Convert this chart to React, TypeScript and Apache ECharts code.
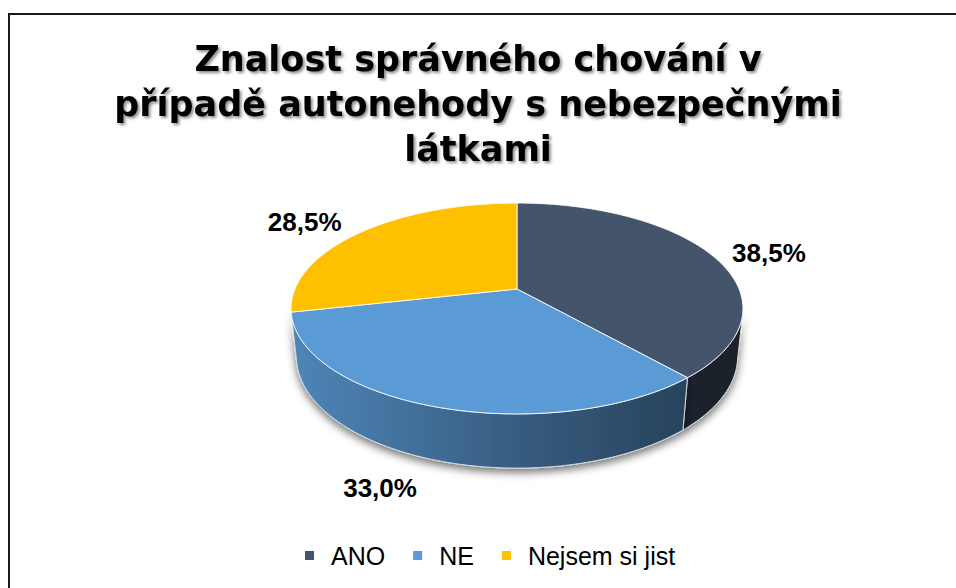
import React, { useEffect, useRef } from 'react';
import * as echarts from 'echarts';

// ---- data ----
const categories = ['ANO', 'NE', 'Nejsem si jist'];
const values = [38.5, 33.0, 28.5];
const colors = ['#44546A', '#5B9BD5', '#FFC000'];
const titleText = 'Znalost správného chování v\npřípadě autonehody s nebezpečnými\nlátkami';

// ---- 3D projection layout ----
const CX = 517;
const CY = 289;
const K = 1068;
const D = 4.81;
const TILT = (27.3 * Math.PI) / 180;
const SN = Math.sin(TILT);
const CS = Math.cos(TILT);
const H = 0.245;
const VIS = Math.acos(-1 / (D * CS)); // silhouette angle of the wall
const VIS0 = VIS;
const VIS1 = 2 * Math.PI - VIS;
const labelOffsets = [
  [57, -2],
  [-56, 28],
  [-57, -10],
];

function proj(theta: number, R: number, Y: number): number[] {
  const X = R * Math.sin(theta);
  const Z = R * Math.cos(theta);
  const xc = X;
  const yc = Y * CS + Z * SN;
  const zc = D + Z * CS - Y * SN;
  return [CX + (K * xc) / zc, CY - (K * yc) / zc];
}

function arc(from: number, to: number, Y: number): number[][] {
  const n = Math.max(2, Math.ceil((to - from) / (Math.PI / 180)));
  const pts: number[][] = [];
  for (let k = 0; k <= n; k++) {
    const t = from + ((to - from) * k) / n;
    pts.push(proj(t, 1, Y));
  }
  return pts;
}

function shade(hex: string, f: number): string {
  const n = parseInt(hex.slice(1), 16);
  const r = Math.round(((n >> 16) & 255) * f);
  const g = Math.round(((n >> 8) & 255) * f);
  const b = Math.round((n & 255) * f);
  return `rgb(${r},${g},${b})`;
}

export default function App() {
  const ref = useRef<HTMLDivElement>(null);
  useEffect(() => {
    document.body.style.margin = '0';
    document.documentElement.style.overflow = 'hidden';
    const chart = echarts.init(ref.current!, null, { renderer: 'svg' });
    const total = values.reduce((a, b) => a + b, 0);
    const leftX = proj(-Math.PI / 2, 1, 0)[0];
    const rightX = proj(Math.PI / 2, 1, 0)[0];

    const makeRender = (i: number) => (params: any, api: any) => {
      const v = api.value(0) as number;
      const before = values.slice(0, i).reduce((a, b) => a + b, 0);
      const a0 = (before / total) * 2 * Math.PI;
      const a1 = ((before + v) / total) * 2 * Math.PI;
      const children: any[] = [];
      const top = [proj(0, 0, 0), ...arc(a0, a1, 0)];
      children.push({
        type: 'polygon',
        shape: { points: top },
        style: {
          fill: colors[i],
          stroke: 'rgba(255,255,255,0.85)',
          lineWidth: 1,
        },
        z2: 10,
      });
      const w0 = Math.max(a0, VIS0);
      const w1 = Math.min(a1, VIS1);
      if (w1 > w0) {
        const wall = [...arc(w0, w1, 0), ...arc(w0, w1, -H).reverse()];
        const grad = new echarts.graphic.LinearGradient(
          leftX,
          0,
          rightX,
          0,
          [
            { offset: 0, color: shade(colors[i], 0.86) },
            { offset: 0.5, color: shade(colors[i], 0.6) },
            { offset: 1, color: shade(colors[i], 0.38) },
          ],
          true
        );
        children.push({
          type: 'polygon',
          shape: { points: wall },
          style: {
            fill: grad,
            stroke: 'rgba(225,225,225,0.9)',
            lineWidth: 1,
            shadowBlur: 9,
            shadowOffsetY: 4,
            shadowColor: 'rgba(0,0,0,0.55)',
          },
          z2: 1,
        });
      }
      const mid = (a0 + a1) / 2;
      const front = mid > VIS0 && mid < VIS1;
      const anchor = proj(mid, 1, front ? -H : 0);
      const off = labelOffsets[i];
      children.push({
        type: 'text',
        x: anchor[0] + off[0],
        y: anchor[1] + off[1],
        style: {
          text: v.toFixed(1).replace('.', ',') + '%',
          fill: '#000',
          font: 'bold 26px "Liberation Sans", Arial, sans-serif',
          align: 'center',
          verticalAlign: 'middle',
        },
        z2: 20,
      });
      return { type: 'group', children };
    };

    const option: any = {
      animation: false,
      backgroundColor: '#ffffff',
      title: {
        text: titleText,
        left: 'center',
        top: 31,
        textStyle: {
          fontFamily: '"DejaVu Sans", sans-serif',
          fontWeight: 'bold',
          fontSize: 35,
          lineHeight: 45,
          color: '#000',
          textShadowColor: 'rgba(0,0,0,0.45)',
          textShadowBlur: 3,
          textShadowOffsetX: 2,
          textShadowOffsetY: 2,
        },
      },
      legend: {
        data: categories,
        left: 305,
        top: 543,
        padding: 0,
        icon: 'rect',
        itemWidth: 9,
        itemHeight: 9,
        itemGap: 28,
        selectedMode: false,
        textStyle: {
          fontFamily: '"Liberation Sans", Arial, sans-serif',
          fontSize: 25,
          color: '#000',
          padding: [0, 0, 0, 12],
        },
      },
      series: categories.map((name, i) => ({
        type: 'custom',
        name,
        coordinateSystem: 'none',
        itemStyle: { color: colors[i] },
        data: [{ value: values[i], name }],
        renderItem: makeRender(i),
      })),
    };
    chart.setOption(option);
    return () => chart.dispose();
  }, []);
  return (
    <div
      style={{
        position: 'relative',
        width: 956,
        height: 588,
        overflow: 'hidden',
      }}
    >
      <div ref={ref} style={{ width: 956, height: 588 }} />
      <div
        style={{
          position: 'absolute',
          left: 8,
          top: 13,
          width: 2000,
          height: 2000,
          borderLeft: '2.5px solid #1a1a1a',
          borderTop: '2.5px solid #1a1a1a',
          pointerEvents: 'none',
        }}
      />
    </div>
  );
}
